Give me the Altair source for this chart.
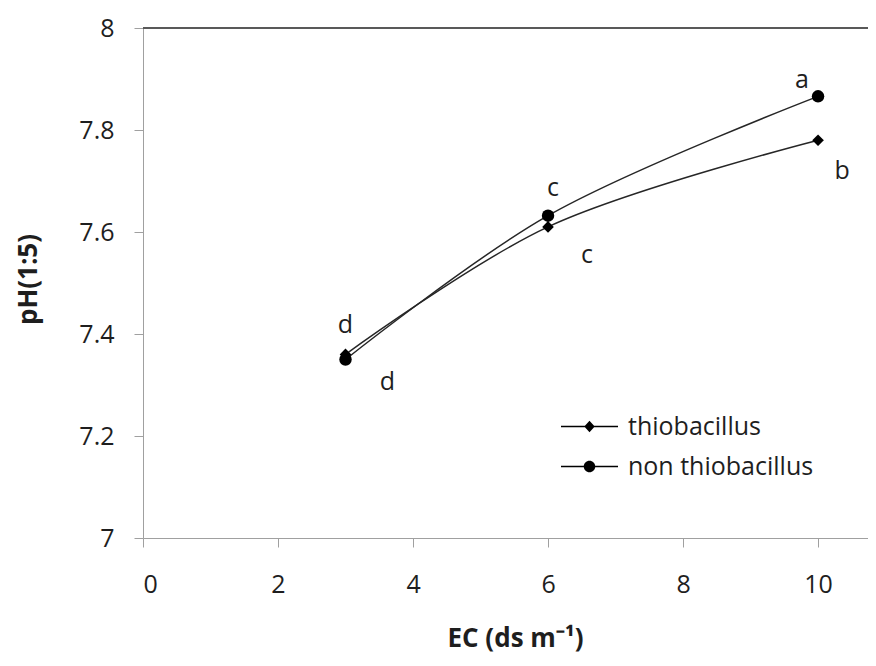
import altair as alt
import pandas as pd

# ---- data ----
ec_values = [3, 6, 10]
ph_thiobacillus = [7.36, 7.61, 7.78]
ph_non_thiobacillus = [7.35, 7.632, 7.866]
letters_thiobacillus = ["d", "c", "b"]
letters_non_thiobacillus = ["d", "c", "a"]
series_names = ["thiobacillus", "non thiobacillus"]
x_ticks = [0, 2, 4, 6, 8, 10]
y_ticks = [7.0, 7.2, 7.4, 7.6, 7.8, 8.0]

# ---- style (pixel offsets of the significance letters) ----
letter_offsets = [(42, 28), (39, 28), (24, 31), (0, -35), (5, -28), (-16, -16)]
FONT = "Open Sans"
TXT = "#1e1e1e"
AXIS_GRAY = "#a0a0a0"

rows = []
for s, phs, lets in [
    (series_names[0], ph_thiobacillus, letters_thiobacillus),
    (series_names[1], ph_non_thiobacillus, letters_non_thiobacillus),
]:
    for e, p, l in zip(ec_values, phs, lets):
        rows.append({"EC": e, "pH": p, "series": s, "letter": l})
df = pd.DataFrame(rows)
df["idx"] = range(len(df))

x_enc = alt.X(
    "EC:Q",
    scale=alt.Scale(domain=[0, 10.74], nice=False, zero=False),
    axis=alt.Axis(
        values=x_ticks, title="EC (ds m⁻¹)", grid=False,
        domainColor=AXIS_GRAY, tickColor=AXIS_GRAY, tickSize=9,
        labelFont=FONT, labelFontSize=25, labelColor=TXT, labelPadding=25,
        titleFont=FONT, titleFontSize=26, titleFontWeight="bold", titleColor=TXT,
        titleX=372, titleY=100, titleBaseline="middle", titleAlign="center",
    ),
)
y_enc = alt.Y(
    "pH:Q",
    scale=alt.Scale(domain=[7, 8], nice=False, zero=False),
    axis=alt.Axis(
        values=y_ticks, title="pH(1:5)", grid=False,
        labelExpr="format(datum.value, '.1~f')",
        domainColor=AXIS_GRAY, tickColor=AXIS_GRAY, tickSize=9,
        labelFont=FONT, labelFontSize=25, labelColor=TXT, labelPadding=20,
        titleFont=FONT, titleFontSize=26, titleFontWeight="bold", titleColor=TXT,
        titleX=-115, titleY=251, titleBaseline="middle", titleAlign="center", titleAngle=-90,
    ),
)

base = alt.Chart(df)

top_rule = base.mark_rule(color="#595959", strokeWidth=2).encode(y=alt.datum(8))

lines = base.mark_line(color="#262626", strokeWidth=1.5, interpolate="catmull-rom").encode(
    x=x_enc, y=y_enc, detail="series:N"
)

points = base.mark_point(filled=True, color="black", opacity=1, strokeWidth=0).encode(
    x=x_enc, y=y_enc,
    shape=alt.Shape("series:N", scale=alt.Scale(domain=series_names, range=["diamond", "circle"]), legend=None),
    size=alt.Size("series:N", scale=alt.Scale(domain=series_names, range=[135, 155]), legend=None),
)

# legend: line + marker symbols
legend_paths = [
    "M-5.7,-0.13L5.7,-0.13L5.7,0.13L-5.7,0.13Z M0,-1.15L1.05,0L0,1.15L-1.05,0Z",
    "M-5.7,-0.13L5.7,-0.13L5.7,0.13L-5.7,0.13Z M-1.15,0A1.15,1.15,0,1,1,1.15,0A1.15,1.15,0,1,1,-1.15,0Z",
]
legend_layer = base.transform_filter("datum.EC < 0").mark_point(
    filled=True, color="black", opacity=1, strokeWidth=0
).encode(
    x=x_enc, y=y_enc,
    shape=alt.Shape(
        "series:N",
        scale=alt.Scale(domain=series_names, range=legend_paths),
        legend=alt.Legend(
            title=None, orient="none", legendX=434, legendY=386,
            symbolSize=100, symbolFillColor="black", symbolStrokeWidth=0,
            symbolOpacity=1, labelFont=FONT, labelFontSize=25, labelColor=TXT,
            labelOffset=26, rowPadding=14, labelLimit=400,
        ),
    ),
)

texts = []
for i, (dx, dy) in enumerate(letter_offsets):
    texts.append(
        base.transform_filter(f"datum.idx == {i}").mark_text(
            font=FONT, fontSize=25, color=TXT, dx=dx, dy=dy, align="center", baseline="middle"
        ).encode(x=x_enc, y=y_enc, text="letter:N")
    )

chart = alt.layer(top_rule, lines, points, legend_layer, *texts).resolve_scale(
    shape="independent", size="independent"
).properties(
    width=725, height=510,
    autosize=alt.AutoSizeParams(type="none"),
    padding={"left": 135, "top": 20, "right": 0, "bottom": 116},
).configure_view(stroke=None)

chart.save("out.html", embed_options={"renderer": "svg", "actions": False})
